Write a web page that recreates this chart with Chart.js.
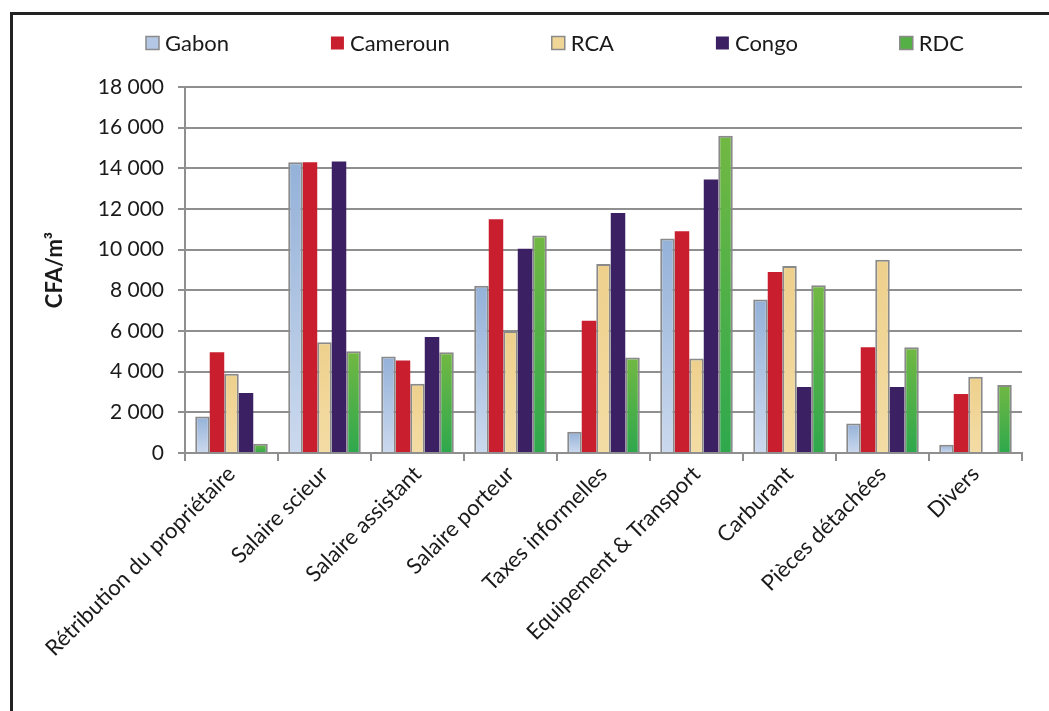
<!DOCTYPE html>
<html>
<head>
<meta charset="utf-8">
<script src="https://cdn.jsdelivr.net/npm/chart.js@4.4.1/dist/chart.umd.min.js"></script>
<style>
  html, body { margin: 0; padding: 0; background: #fff; overflow: hidden; }
  #frame { position: absolute; left: 10px; top: 12px; width: 1100px; height: 800px; border: 3px solid #222; }
  #chart { position: absolute; left: 0; top: 0; }
</style>
</head>
<body>
<div id="frame"></div>
<canvas id="chart" width="1049" height="711"></canvas>
<script>
// categories (postes de coût)
const categories = ['Rétribution du propriétaire', 'Salaire scieur', 'Salaire assistant', 'Salaire porteur',
  'Taxes informelles', 'Equipement & Transport', 'Carburant', 'Pièces détachées', 'Divers'];

// valeurs en CFA/m3
const gabon    = [1800, 14300, 4750, 8230, 1050, 10550, 7550, 1450, 400];
const cameroun = [4950, 14300, 4550, 11500, 6500, 10900, 8900, 5200, 2900];
const rca      = [3900, 5450, 3400, 6000, 9300, 4650, 9200, 9500, 3750];
const congo    = [2950, 14330, 5700, 10050, 11800, 13450, 3250, 3250, null];
const rdc      = [450, 5000, 4950, 10700, 4700, 15600, 8250, 5200, 3350];

const yTicks = { min: 0, max: 18000, step: 2000 };

const FONT = 'Lato, "Open Sans", sans-serif';

// gradient par barre (haut -> bas)
function barGradient(topCol, botCol, fallback) {
  return (c) => {
    const chart = c.chart;
    if (!chart.chartArea || c.parsed == null || c.parsed.y == null) return fallback;
    const y = chart.scales.y;
    const yTop = y.getPixelForValue(c.parsed.y);
    const yBot = y.getPixelForValue(0);
    if (!isFinite(yTop) || yBot - yTop < 1) return fallback;
    const g = chart.ctx.createLinearGradient(0, yTop, 0, yBot);
    g.addColorStop(0, topCol);
    g.addColorStop(1, botCol);
    return g;
  };
}

const series = [
  { label: 'Gabon', data: gabon, bg: barGradient('#94b1d8', '#cbd9ee', '#a9c0e0'), border: '#8a8a8a', bw: 2, swatch: '#b4c8e6' },
  { label: 'Cameroun', data: cameroun, bg: '#c81e2e', border: '#c81e2e', bw: 0, swatch: '#c81e2e' },
  { label: 'RCA', data: rca, bg: barGradient('#eed08c', '#f3dca4', '#efd596'), border: '#8a8a8a', bw: 2, swatch: '#efd596' },
  { label: 'Congo', data: congo, bg: '#3b2163', border: '#3b2163', bw: 0, swatch: '#3b2163' },
  { label: 'RDC', data: rdc, bg: barGradient('#72b843', '#2ea84d', '#55b046'), border: '#8a8a8a', bw: 2, swatch: '#55b046' }
];

// légende dessinée à la main, comme celle d'Excel
const legendPlugin = {
  id: 'topLegend',
  afterDraw(chart) {
    const ctx = chart.ctx;
    const box = 13, gapText = 6;
    const startX = 146, endX = 964, midY = 43;
    ctx.save();
    ctx.font = '22px ' + FONT;
    const widths = series.map(s => box + gapText + ctx.measureText(s.label).width);
    const total = widths.reduce((a, b) => a + b, 0);
    const gap = (endX - startX - total) / (series.length - 1);
    let x = startX;
    series.forEach((s, i) => {
      ctx.fillStyle = s.swatch;
      ctx.fillRect(x, midY - box / 2, box, box);
      if (s.bw) {
        ctx.strokeStyle = '#8a8a8a';
        ctx.lineWidth = 1.5;
        ctx.strokeRect(x, midY - box / 2, box, box);
      }
      ctx.fillStyle = '#1a1a1a';
      ctx.textBaseline = 'middle';
      ctx.textAlign = 'left';
      ctx.fillText(s.label, x + box + gapText, midY + 1);
      x += widths[i] + gap;
    });
    ctx.restore();
  }
};

new Chart(document.getElementById('chart'), {
  type: 'bar',
  data: {
    labels: categories,
    datasets: series.map(s => ({
      label: s.label,
      data: s.data,
      backgroundColor: s.bg,
      borderColor: s.border,
      borderWidth: s.bw,
      borderSkipped: 'bottom',
      categoryPercentage: 0.78,
      barPercentage: 1.0
    }))
  },
  options: {
    responsive: false,
    animation: false,
    layout: { padding: { left: 14, right: 27, top: 87, bottom: 0 } },
    plugins: {
      legend: { display: false },
      tooltip: { enabled: false }
    },
    scales: {
      x: {
        afterFit: (s) => { s.height = 258; },
        grid: { offset: true, drawOnChartArea: false, drawTicks: true, tickLength: 8, color: '#8f8f8f', lineWidth: 2 },
        border: { color: '#8f8f8f', width: 2 },
        ticks: {
          minRotation: 45, maxRotation: 45, autoSkip: false, padding: 0,
          color: '#1a1a1a', font: { family: FONT, size: 22 }
        }
      },
      y: {
        min: yTicks.min, max: yTicks.max,
        afterFit: (s) => { s.width = 171; },
        grid: { color: '#8f8f8f', lineWidth: 2, tickLength: 7 },
        border: { color: '#8f8f8f', width: 2 },
        ticks: {
          stepSize: yTicks.step, padding: 14,
          color: '#1a1a1a', font: { family: FONT, size: 21 },
          callback: (v) => String(v).replace(/\B(?=(\d{3})+(?!\d))/g, ' ')
        },
        title: {
          display: true, text: 'CFA/m³', color: '#1a1a1a',
          font: { family: FONT, size: 22, weight: 'bold' },
          padding: { top: 28, bottom: 0 }
        }
      }
    }
  },
  plugins: [legendPlugin]
});
</script>
</body>
</html>
